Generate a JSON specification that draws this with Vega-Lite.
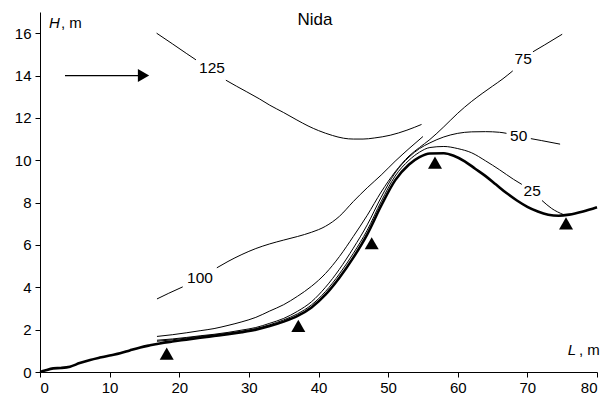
{
  "$schema": "https://vega.github.io/schema/vega-lite/v6.json",
  "width": 557,
  "height": 360,
  "autosize": {"type": "none"},
  "padding": {"left": 40, "top": 12, "right": 8, "bottom": 35},
  "background": "white",
  "config": {
    "view": {"stroke": null},
    "font": "Liberation Sans",
    "axis": {
      "grid": false,
      "domainColor": "black",
      "domainWidth": 1,
      "tickColor": "black",
      "tickWidth": 1,
      "tickSize": 5,
      "labelColor": "black",
      "labelFont": "Liberation Sans",
      "labelFontSize": 15,
      "title": null
    }
  },
  "datasets": {
    "ground": [
      {"x": 0, "y": 0}, {"x": 0.7, "y": 0.07}, {"x": 1.9, "y": 0.17}, {"x": 3, "y": 0.19}, {"x": 4.3, "y": 0.25},
      {"x": 5.7, "y": 0.42}, {"x": 7.2, "y": 0.57}, {"x": 8.6, "y": 0.68}, {"x": 10, "y": 0.78}, {"x": 11.5, "y": 0.88},
      {"x": 12.9, "y": 1.02}, {"x": 14.4, "y": 1.16}, {"x": 15.8, "y": 1.26}, {"x": 17.2, "y": 1.35}, {"x": 19, "y": 1.44},
      {"x": 21, "y": 1.53}, {"x": 23, "y": 1.62}, {"x": 25, "y": 1.7}, {"x": 27, "y": 1.78}, {"x": 29, "y": 1.88},
      {"x": 31, "y": 2.0}, {"x": 33, "y": 2.17}, {"x": 35, "y": 2.38}, {"x": 37, "y": 2.65}, {"x": 39, "y": 3.05},
      {"x": 41, "y": 3.65}, {"x": 43, "y": 4.45}, {"x": 45, "y": 5.4}, {"x": 47, "y": 6.5}, {"x": 49, "y": 7.85},
      {"x": 51, "y": 9.05}, {"x": 53, "y": 9.8}, {"x": 54.5, "y": 10.15}, {"x": 56, "y": 10.32}, {"x": 58, "y": 10.33},
      {"x": 59.5, "y": 10.2}, {"x": 61, "y": 9.95}, {"x": 62.5, "y": 9.6}, {"x": 64, "y": 9.25}, {"x": 65.5, "y": 8.85},
      {"x": 67, "y": 8.45}, {"x": 68.5, "y": 8.1}, {"x": 70, "y": 7.8}, {"x": 71.5, "y": 7.58}, {"x": 73, "y": 7.43},
      {"x": 74.5, "y": 7.38}, {"x": 76, "y": 7.43}, {"x": 78, "y": 7.58}, {"x": 80, "y": 7.78}
    ],
    "lines": [
      {"s": "25a", "x": 16.8, "y": 1.45}, {"s": "25a", "x": 19, "y": 1.52}, {"s": "25a", "x": 21, "y": 1.6}, {"s": "25a", "x": 23, "y": 1.68},
      {"s": "25a", "x": 25, "y": 1.75}, {"s": "25a", "x": 27, "y": 1.83}, {"s": "25a", "x": 29, "y": 1.93}, {"s": "25a", "x": 31, "y": 2.05},
      {"s": "25a", "x": 33, "y": 2.23}, {"s": "25a", "x": 35, "y": 2.46}, {"s": "25a", "x": 37, "y": 2.75}, {"s": "25a", "x": 39, "y": 3.17},
      {"s": "25a", "x": 41, "y": 3.8}, {"s": "25a", "x": 43, "y": 4.63}, {"s": "25a", "x": 45, "y": 5.6}, {"s": "25a", "x": 47, "y": 6.7},
      {"s": "25a", "x": 49, "y": 8.05}, {"s": "25a", "x": 51, "y": 9.25}, {"s": "25a", "x": 53, "y": 10.0}, {"s": "25a", "x": 54.5, "y": 10.38},
      {"s": "25a", "x": 56, "y": 10.6}, {"s": "25a", "x": 58, "y": 10.65}, {"s": "25a", "x": 60, "y": 10.55}, {"s": "25a", "x": 62, "y": 10.35},
      {"s": "25a", "x": 64, "y": 9.97}, {"s": "25a", "x": 66, "y": 9.55}, {"s": "25a", "x": 68, "y": 9.1}, {"s": "25a", "x": 69.2, "y": 8.86},
      {"s": "25b", "x": 72.1, "y": 8.1}, {"s": "25b", "x": 73.5, "y": 7.72}, {"s": "25b", "x": 75.2, "y": 7.43},

      {"s": "50a", "x": 16.8, "y": 1.5}, {"s": "50a", "x": 19, "y": 1.56}, {"s": "50a", "x": 21, "y": 1.63}, {"s": "50a", "x": 23, "y": 1.71},
      {"s": "50a", "x": 25, "y": 1.78}, {"s": "50a", "x": 27, "y": 1.87}, {"s": "50a", "x": 29, "y": 1.98}, {"s": "50a", "x": 31, "y": 2.1},
      {"s": "50a", "x": 33, "y": 2.3}, {"s": "50a", "x": 35, "y": 2.53}, {"s": "50a", "x": 37, "y": 2.87}, {"s": "50a", "x": 39, "y": 3.32},
      {"s": "50a", "x": 41, "y": 4.0}, {"s": "50a", "x": 43, "y": 4.85}, {"s": "50a", "x": 45, "y": 5.85}, {"s": "50a", "x": 47, "y": 6.95},
      {"s": "50a", "x": 49, "y": 8.25}, {"s": "50a", "x": 51, "y": 9.4}, {"s": "50a", "x": 53, "y": 10.15}, {"s": "50a", "x": 54.5, "y": 10.55},
      {"s": "50a", "x": 56, "y": 10.82}, {"s": "50a", "x": 58, "y": 11.1}, {"s": "50a", "x": 60, "y": 11.27}, {"s": "50a", "x": 62, "y": 11.34},
      {"s": "50a", "x": 64, "y": 11.35}, {"s": "50a", "x": 66, "y": 11.32}, {"s": "50a", "x": 67.0, "y": 11.27},
      {"s": "50b", "x": 70.5, "y": 11.02}, {"s": "50b", "x": 72, "y": 10.93}, {"s": "50b", "x": 74.7, "y": 10.76},

      {"s": "75a", "x": 16.8, "y": 1.68}, {"s": "75a", "x": 19, "y": 1.76}, {"s": "75a", "x": 21, "y": 1.85}, {"s": "75a", "x": 23, "y": 1.95},
      {"s": "75a", "x": 25, "y": 2.05}, {"s": "75a", "x": 27, "y": 2.2}, {"s": "75a", "x": 29, "y": 2.37}, {"s": "75a", "x": 31, "y": 2.58},
      {"s": "75a", "x": 33, "y": 2.88}, {"s": "75a", "x": 35, "y": 3.18}, {"s": "75a", "x": 37, "y": 3.58}, {"s": "75a", "x": 39, "y": 4.05},
      {"s": "75a", "x": 41, "y": 4.65}, {"s": "75a", "x": 43, "y": 5.45}, {"s": "75a", "x": 45, "y": 6.4}, {"s": "75a", "x": 47, "y": 7.4},
      {"s": "75a", "x": 49, "y": 8.5}, {"s": "75a", "x": 51, "y": 9.45}, {"s": "75a", "x": 53, "y": 10.2}, {"s": "75a", "x": 54.5, "y": 10.6},
      {"s": "75a", "x": 56, "y": 10.98}, {"s": "75a", "x": 58, "y": 11.58}, {"s": "75a", "x": 60, "y": 12.22}, {"s": "75a", "x": 62, "y": 12.78},
      {"s": "75a", "x": 63.5, "y": 13.15}, {"s": "75a", "x": 65, "y": 13.5}, {"s": "75a", "x": 66.5, "y": 13.85}, {"s": "75a", "x": 67.9, "y": 14.22},
      {"s": "75b", "x": 70.8, "y": 15.12}, {"s": "75b", "x": 72.5, "y": 15.45}, {"s": "75b", "x": 75.0, "y": 15.95},

      {"s": "100a", "x": 16.8, "y": 3.45}, {"s": "100a", "x": 18.5, "y": 3.72}, {"s": "100a", "x": 20.5, "y": 4.02},
      {"s": "100b", "x": 25.4, "y": 4.92}, {"s": "100b", "x": 27, "y": 5.22}, {"s": "100b", "x": 29, "y": 5.55}, {"s": "100b", "x": 31, "y": 5.83},
      {"s": "100b", "x": 33, "y": 6.05}, {"s": "100b", "x": 35, "y": 6.23}, {"s": "100b", "x": 37, "y": 6.4}, {"s": "100b", "x": 39, "y": 6.6},
      {"s": "100b", "x": 41, "y": 6.88}, {"s": "100b", "x": 43, "y": 7.35}, {"s": "100b", "x": 45, "y": 8.05}, {"s": "100b", "x": 47, "y": 8.7},
      {"s": "100b", "x": 49, "y": 9.3}, {"s": "100b", "x": 51, "y": 9.95}, {"s": "100b", "x": 53, "y": 10.55}, {"s": "100b", "x": 55, "y": 11.12},

      {"s": "125a", "x": 16.75, "y": 16.0}, {"s": "125a", "x": 19, "y": 15.5}, {"s": "125a", "x": 21, "y": 15.05}, {"s": "125a", "x": 22.4, "y": 14.74},
      {"s": "125b", "x": 26.7, "y": 13.78}, {"s": "125b", "x": 28.2, "y": 13.5}, {"s": "125b", "x": 29.7, "y": 13.23}, {"s": "125b", "x": 31.5, "y": 12.9},
      {"s": "125b", "x": 33, "y": 12.6}, {"s": "125b", "x": 35, "y": 12.25}, {"s": "125b", "x": 36.9, "y": 11.9}, {"s": "125b", "x": 38.5, "y": 11.62},
      {"s": "125b", "x": 40, "y": 11.4}, {"s": "125b", "x": 42, "y": 11.17}, {"s": "125b", "x": 43.6, "y": 11.04}, {"s": "125b", "x": 45, "y": 11.0},
      {"s": "125b", "x": 46.4, "y": 11.0}, {"s": "125b", "x": 48, "y": 11.05}, {"s": "125b", "x": 50.3, "y": 11.18}, {"s": "125b", "x": 52.7, "y": 11.42},
      {"s": "125b", "x": 54.8, "y": 11.69}
    ],
    "markers": [
      {"x": 18.2, "y": 0.87}, {"x": 37.1, "y": 2.18}, {"x": 47.64, "y": 6.08}, {"x": 56.73, "y": 9.89}, {"x": 75.55, "y": 7.02}
    ],
    "curvelabels": [
      {"x": 24.7, "y": 14.35, "t": "125"}, {"x": 22.98, "y": 4.46, "t": "100"}, {"x": 69.4, "y": 14.77, "t": "75"},
      {"x": 68.75, "y": 11.14, "t": "50"}, {"x": 70.7, "y": 8.54, "t": "25"}
    ],
    "arrowline": [{"x": 3.59, "y": 14}, {"x": 14.2, "y": 14}],
    "arrowhead": [{"x": 14.87, "y": 14}],
    "title": [{"x": 39.5, "y": 16.6, "t": "Nida"}],
    "italic": [{"x": 2.08, "y": 16.23, "t": "H"}, {"x": 76.4, "y": 0.8, "t": "L"}],
    "units": [{"x": 3.0, "y": 16.23, "t": ", m"}, {"x": 77.4, "y": 0.8, "t": ", m"}]
  },
  "encoding": {
    "x": {
      "field": "x", "type": "quantitative",
      "scale": {"domain": [0, 80], "nice": false, "zero": false},
      "axis": {"values": [0, 10, 20, 30, 40, 50, 60, 70, 80], "labelPadding": 3}
    },
    "y": {
      "field": "y", "type": "quantitative",
      "scale": {"domain": [0, 17], "nice": false, "zero": false},
      "axis": {"values": [0, 2, 4, 6, 8, 10, 12, 14, 16], "labelPadding": 4}
    }
  },
  "layer": [
    {
      "data": {"name": "lines"},
      "mark": {"type": "line", "color": "black", "strokeWidth": 1, "interpolate": "monotone"},
      "encoding": {"detail": {"field": "s", "type": "nominal"}}
    },
    {
      "data": {"name": "ground"},
      "mark": {"type": "line", "color": "black", "strokeWidth": 2.6, "interpolate": "monotone"},
      "encoding": {}
    },
    {
      "data": {"name": "markers"},
      "mark": {"type": "point", "shape": "triangle-up", "filled": true, "color": "black", "opacity": 1, "size": 196}
    },
    {
      "data": {"name": "arrowline"},
      "mark": {"type": "line", "color": "black", "strokeWidth": 1.2},
      "encoding": {}
    },
    {
      "data": {"name": "arrowhead"},
      "mark": {"type": "point", "shape": "triangle-right", "filled": true, "color": "black", "opacity": 1, "size": 169}
    },
    {
      "data": {"name": "curvelabels"},
      "mark": {"type": "text", "fontSize": 15.5, "color": "black", "align": "center", "baseline": "middle"},
      "encoding": {"text": {"field": "t"}}
    },
    {
      "data": {"name": "title"},
      "mark": {"type": "text", "fontSize": 17, "color": "black", "align": "center", "baseline": "middle"},
      "encoding": {"text": {"field": "t"}}
    },
    {
      "data": {"name": "italic"},
      "mark": {"type": "text", "fontSize": 15, "fontStyle": "italic", "color": "black", "align": "center", "baseline": "alphabetic"},
      "encoding": {"text": {"field": "t"}}
    },
    {
      "data": {"name": "units"},
      "mark": {"type": "text", "fontSize": 15, "color": "black", "align": "left", "baseline": "alphabetic"},
      "encoding": {"text": {"field": "t"}}
    }
  ]
}
